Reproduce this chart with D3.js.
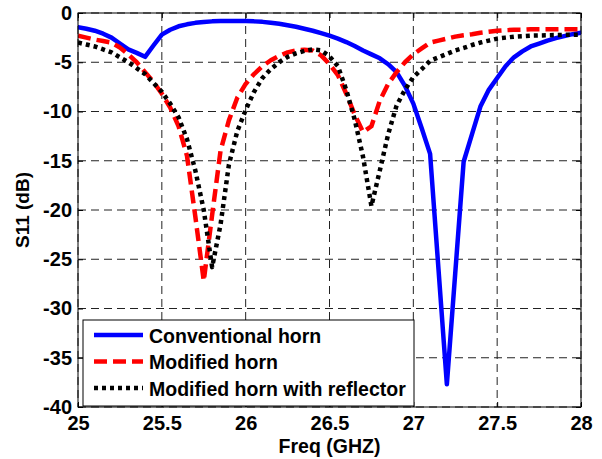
<!DOCTYPE html>
<html>
<head>
<meta charset="utf-8">
<script src="https://cdn.jsdelivr.net/npm/d3@7"></script>
<style>
  body { margin: 0; background: #fff; }
  svg text { font-family: "Liberation Sans", Arial, sans-serif; font-weight: bold; }
</style>
</head>
<body>
<svg id="chart"></svg>
<script>
// frequency samples (GHz), 0.05 step
var freq = [25.00, 25.05, 25.10, 25.15, 25.20, 25.25, 25.30, 25.35, 25.40, 25.45,
    25.50, 25.55, 25.60, 25.65, 25.70, 25.75, 25.80, 25.85, 25.90, 25.95,
    26.00, 26.05, 26.10, 26.15, 26.20, 26.25, 26.30, 26.35, 26.40, 26.45,
    26.50, 26.55, 26.60, 26.65, 26.70, 26.75, 26.80, 26.85, 26.90, 26.95,
    27.00, 27.05, 27.10, 27.15, 27.20, 27.25, 27.30, 27.35, 27.40, 27.45,
    27.50, 27.55, 27.60, 27.65, 27.70, 27.75, 27.80, 27.85, 27.90, 27.95, 28.00];

var conventional = [-1.45, -1.6, -1.8, -2.1, -2.5, -3.1, -3.7, -4.05, -4.45, -3.3,
    -2.2, -1.7, -1.35, -1.15, -1.0, -0.92, -0.85, -0.82, -0.8, -0.8,
    -0.82, -0.85, -0.9, -1.0, -1.1, -1.25, -1.4, -1.6, -1.8, -2.05,
    -2.3, -2.6, -2.95, -3.35, -3.8, -4.2, -4.6, -5.2, -6.0, -7.4,
    -9.2, -11.7, -14.3, -26.0, -37.7, -26.4, -15.1, -12.3, -9.5, -7.8,
    -6.6, -5.4, -4.5, -3.9, -3.4, -3.1, -2.8, -2.55, -2.35, -2.15, -2.0];

var modified = [-2.3, -2.5, -2.7, -2.85, -3.0, -3.5, -4.2, -5.0, -6.0, -7.0,
    -8.2, -9.6, -11.5, -14.5, -20.7, -27.2, -20.5, -14.0, -10.9, -8.6,
    -7.2, -6.2, -5.4, -4.8, -4.35, -4.0, -3.8, -3.72, -3.8, -4.3,
    -5.2, -6.3, -8.2, -10.3, -12.1, -11.5, -8.9, -7.2, -6.0, -5.0,
    -4.2, -3.6, -3.0, -2.8, -2.6, -2.4, -2.25, -2.15, -2.0, -1.9,
    -1.8, -1.75, -1.7, -1.7, -1.65, -1.65, -1.65, -1.65, -1.65, -1.65, -1.65];

var withReflector = [-3.0, -3.2, -3.4, -3.7, -4.0, -4.5, -5.0, -5.6, -6.2, -7.1,
    -8.0, -9.2, -10.6, -12.8, -16.0, -20.0, -25.8, -21.5, -15.4, -12.0,
    -9.85, -8.0, -6.6, -5.7, -5.0, -4.45, -4.1, -3.85, -3.7, -3.8,
    -4.4, -5.4, -7.8, -10.8, -14.6, -19.6, -16.0, -12.3, -9.4, -7.8,
    -6.5, -5.7, -4.85, -4.5, -4.15, -3.8, -3.55, -3.25, -3.0, -2.8,
    -2.6, -2.5, -2.4, -2.35, -2.3, -2.28, -2.26, -2.24, -2.22, -2.2, -2.2];

var seriesNames = ["Conventional horn", "Modified horn", "Modified horn with reflector"];

var xTicks = [25, 25.5, 26, 26.5, 27, 27.5, 28];
var xTickLabels = ["25", "25.5", "26", "26.5", "27", "27.5", "28"];
var yTicks = [0, -5, -10, -15, -20, -25, -30, -35, -40];
var yTickLabels = ["0", "-5", "-10", "-15", "-20", "-25", "-30", "-35", "-40"];

var margin = { top: 13, right: 21, bottom: 52, left: 78 };
var width = 602 - margin.left - margin.right;
var height = 459 - margin.top - margin.bottom;

var svg = d3.select("#chart")
    .attr("width", 602)
    .attr("height", 459);

var g = svg.append("g")
    .attr("transform", "translate(" + margin.left + "," + margin.top + ")");

var x = d3.scaleLinear().domain([25, 28]).range([0, width]);
var y = d3.scaleLinear().domain([-40, 0]).range([height, 0]);

// grid
g.selectAll(".xgrid")
    .data(xTicks)
    .enter().append("line")
    .attr("x1", function (d) { return x(d); })
    .attr("x2", function (d) { return x(d); })
    .attr("y1", 0)
    .attr("y2", height)
    .attr("stroke", "#222")
    .attr("stroke-width", 1)
    .attr("stroke-dasharray", "8,5");

g.selectAll(".ygrid")
    .data(yTicks)
    .enter().append("line")
    .attr("x1", 0)
    .attr("x2", width)
    .attr("y1", function (d) { return y(d); })
    .attr("y2", function (d) { return y(d); })
    .attr("stroke", "#222")
    .attr("stroke-width", 1)
    .attr("stroke-dasharray", "8,5");

// axes with inward ticks
var xAxis = d3.axisBottom(x)
    .tickValues(xTicks)
    .tickSize(-5)
    .tickPadding(9)
    .tickFormat(function (d, i) { return xTickLabels[i]; });

var yAxis = d3.axisLeft(y)
    .tickValues(yTicks)
    .tickSize(-5)
    .tickPadding(6)
    .tickFormat(function (d, i) { return yTickLabels[i]; });

var gx = g.append("g")
    .attr("transform", "translate(0," + height + ")")
    .call(xAxis);
var gy = g.append("g").call(yAxis);

g.append("g")
    .call(d3.axisTop(x).tickValues(xTicks).tickSize(-5).tickFormat(""));
g.append("g")
    .attr("transform", "translate(" + width + ",0)")
    .call(d3.axisRight(y).tickValues(yTicks).tickSize(-5).tickFormat(""));

g.selectAll(".domain").remove();
g.selectAll(".tick line").attr("stroke", "#000");
gx.selectAll("text").style("font-size", "20px").attr("fill", "#000");
gy.selectAll("text").style("font-size", "20px").attr("fill", "#000");

// lines
var defs = svg.append("defs");
defs.append("clipPath").attr("id", "clip")
    .append("rect").attr("width", width).attr("height", height);

var line = d3.line()
    .x(function (d) { return x(d[0]); })
    .y(function (d) { return y(d[1]); });

var series = [
    { name: seriesNames[0], values: conventional, color: "#0000ff", dash: null, width: 4.5, cap: "round" },
    { name: seriesNames[1], values: modified, color: "#ff0000", dash: "13,6", width: 4.5, cap: "butt" },
    { name: seriesNames[2], values: withReflector, color: "#000000", dash: "4,4", width: 4.5, cap: "butt" }
];

var plot = g.append("g").attr("clip-path", "url(#clip)");
series.forEach(function (s) {
    plot.append("path")
        .datum(freq.map(function (f, i) { return [f, s.values[i]]; }))
        .attr("d", line)
        .attr("fill", "none")
        .attr("stroke", s.color)
        .attr("stroke-width", s.width)
        .attr("stroke-linejoin", "round")
        .attr("stroke-linecap", s.cap)
        .attr("stroke-dasharray", s.dash);
});

// box
g.append("rect")
    .attr("width", width)
    .attr("height", height)
    .attr("fill", "none")
    .attr("stroke", "#000")
    .attr("stroke-width", 1);

// legend
var legend = g.append("g").attr("transform", "translate(5," + (height - 87) + ")");
legend.append("rect")
    .attr("width", 331)
    .attr("height", 86)
    .attr("fill", "#fff")
    .attr("stroke", "#000")
    .attr("stroke-width", 1);

series.forEach(function (s, i) {
    var ly = 15 + i * 26.5;
    legend.append("line")
        .attr("x1", 11).attr("x2", 60)
        .attr("y1", ly).attr("y2", ly)
        .attr("stroke", s.color)
        .attr("stroke-width", 4.5)
        .attr("stroke-dasharray", s.dash);
    legend.append("text")
        .attr("x", 66)
        .attr("y", ly + 7.5)
        .style("font-size", "19.5px")
        .text(s.name);
});

// axis labels
svg.append("text")
    .attr("x", margin.left + width / 2)
    .attr("y", 453)
    .attr("text-anchor", "middle")
    .style("font-size", "19.5px")
    .text("Freq (GHZ)");

svg.append("text")
    .attr("transform", "translate(29," + (margin.top + height / 2) + ") rotate(-90)")
    .attr("text-anchor", "middle")
    .style("font-size", "19px")
    .text("S11 (dB)");
</script>
</body>
</html>
